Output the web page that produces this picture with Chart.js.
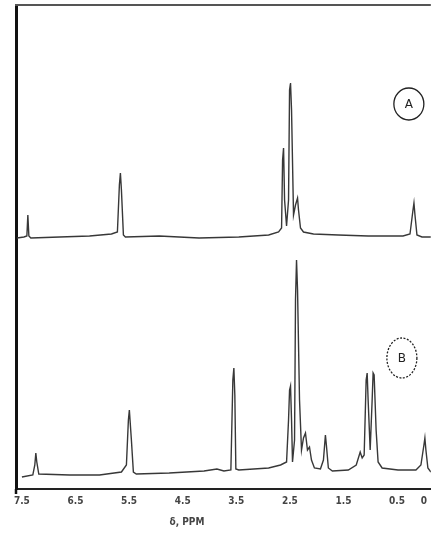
<!DOCTYPE html>
<html>
<head>
<meta charset="utf-8">
<script src="https://cdn.jsdelivr.net/npm/chart.js@4.4.1/dist/chart.umd.min.js"></script>
<style>
  html, body { margin: 0; padding: 0; background: #fff; }
  #wrap { width: 433px; height: 535px; }
</style>
</head>
<body>
<div id="wrap"><canvas id="nmr"></canvas></div>
<script>
// spectrum A (upper trace): chemical shift (ppm) and intensity (arb. units)
const SHIFT_A = [7.593, 7.463, 7.407, 7.389, 7.370, 7.333, 6.795, 6.238, 5.829, 5.718, 5.681, 5.662, 5.643, 5.606, 5.569,
  4.938, 4.195, 3.453, 2.896, 2.711, 2.655, 2.636, 2.618, 2.599, 2.562, 2.525, 2.506, 2.488, 2.469, 2.432, 2.395, 2.357,
  2.339, 2.302, 2.246, 2.060, 1.596, 1.039, 0.389, 0.259, 0.203, 0.185, 0.166, 0.129, 0.036, -0.131];
const INT_A = [251, 252, 253, 274, 253, 251, 252, 253, 255, 257, 304, 316, 299, 254, 252,
  253, 251, 252, 254, 257, 261, 329, 341, 289, 263, 289, 399, 406, 379, 274, 284, 291,
  279, 261, 257, 255, 254, 253, 253, 255, 279, 286, 274, 254, 252, 252];

// spectrum B (lower trace)
const SHIFT_B = [7.500, 7.296, 7.259, 7.240, 7.222, 7.185, 6.609, 6.052, 5.643, 5.550, 5.513, 5.495, 5.457, 5.420, 5.365,
  4.752, 4.102, 3.861, 3.731, 3.601, 3.564, 3.545, 3.527, 3.508, 3.453, 2.896, 2.674, 2.562, 2.525, 2.506, 2.488, 2.469,
  2.451, 2.413, 2.395, 2.376, 2.357, 2.320, 2.283, 2.246, 2.209, 2.172, 2.134, 2.097, 2.042, 1.930, 1.874, 1.837, 1.819,
  1.782, 1.707, 1.410, 1.262, 1.188, 1.151, 1.114, 1.077, 1.058, 1.040, 1.002, 0.965, 0.947, 0.928, 0.891, 0.854, 0.779,
  0.482, 0.148, 0.055, -0.001, -0.019, -0.038, -0.075, -0.131];
const INT_B = [12, 14, 24, 36, 27, 15, 14, 14, 17, 24, 69, 79, 49, 17, 15,
  16, 18, 20, 18, 19, 109, 121, 94, 20, 19, 21, 24, 27, 69, 99, 103, 69,
  27, 49, 189, 229, 199, 89, 39, 51, 56, 39, 42, 29, 21, 20, 29, 54, 44,
  21, 18, 19, 24, 37, 31, 34, 109, 116, 89, 39, 89, 116, 114, 59, 27, 21,
  19, 19, 24, 44, 51, 39, 21, 17];

const TICK_PPM = [7.5, 6.5, 5.5, 4.5, 3.5, 2.5, 1.5, 0.5, 0];
const TICK_TEXT = ['7.5', '6.5', '5.5', '4.5', '3.5', '2.5', '1.5', '0.5', '0'];
const TRACE_NAMES = ['A', 'B'];
const AXIS_TITLE = 'δ, PPM';

// where the circled trace letters and the axis title sit, in axis units
const TAG_SPOTS = [
  { ppm: 0.28, level: 385, rx: 15, ry: 16, dashed: false },
  { ppm: 0.41, level: 131, rx: 15, ry: 20, dashed: true },
];
const TITLE_PPM = 4.42;

const FONT_FAMILY = '"DejaVu Sans Condensed", "Liberation Sans Narrow", "DejaVu Sans", sans-serif';
const TICK_FONT = { family: FONT_FAMILY, size: 10, weight: 'bold' };

function toPoints(shifts, ints) {
  return shifts.map((s, i) => ({ x: s, y: ints[i] }));
}

const frameAndTags = {
  id: 'frameAndTags',
  afterDraw(chart) {
    const { ctx, chartArea, scales: { x, y } } = chart;
    ctx.save();
    // top frame line and the left rule running a little past the axis
    ctx.strokeStyle = '#555';
    ctx.lineWidth = 2;
    ctx.beginPath();
    ctx.moveTo(chartArea.left - 1, chartArea.top);
    ctx.lineTo(chartArea.right, chartArea.top);
    ctx.stroke();
    ctx.strokeStyle = '#111';
    ctx.lineWidth = 2.5;
    ctx.beginPath();
    ctx.moveTo(chartArea.left, chartArea.bottom);
    ctx.lineTo(chartArea.left, chartArea.bottom + 5);
    ctx.stroke();

    TAG_SPOTS.forEach((t, i) => {
      const cx = x.getPixelForValue(t.ppm);
      const cy = y.getPixelForValue(t.level);
      ctx.lineWidth = 1.3;
      ctx.strokeStyle = '#222';
      ctx.setLineDash(t.dashed ? [2, 1.5] : []);
      ctx.beginPath();
      ctx.ellipse(cx, cy, t.rx, t.ry, 0, 0, Math.PI * 2);
      ctx.stroke();
      ctx.setLineDash([]);
      ctx.fillStyle = '#222';
      ctx.font = '12px "DejaVu Sans"';
      ctx.textAlign = 'center';
      ctx.textBaseline = 'middle';
      ctx.fillText(TRACE_NAMES[i], cx, cy + 1);
    });

    ctx.fillStyle = '#444';
    ctx.font = 'bold 10px ' + FONT_FAMILY;
    ctx.textAlign = 'center';
    ctx.textBaseline = 'middle';
    ctx.fillText(AXIS_TITLE, x.getPixelForValue(TITLE_PPM), chartArea.bottom + 33);
    ctx.restore();
  },
};

const lineStyle = {
  showLine: true,
  pointRadius: 0,
  borderColor: '#383838',
  borderWidth: 1.4,
  tension: 0,
  fill: false,
};

new Chart(document.getElementById('nmr'), {
  type: 'scatter',
  data: {
    datasets: [
      { label: TRACE_NAMES[0], data: toPoints(SHIFT_A, INT_A), ...lineStyle },
      { label: TRACE_NAMES[1], data: toPoints(SHIFT_B, INT_B), ...lineStyle },
    ],
  },
  options: {
    responsive: true,
    maintainAspectRatio: false,
    animation: false,
    layout: { padding: { left: 16, top: 5, right: 0, bottom: 0 } },
    plugins: { legend: { display: false }, tooltip: { enabled: false } },
    scales: {
      x: {
        type: 'linear',
        reverse: true,
        min: -0.13,
        max: 7.61,
        afterBuildTicks: s => { s.ticks = TICK_PPM.map(v => ({ value: v })); },
        afterFit: s => { s.height = 46; },
        grid: { display: false, drawTicks: false },
        border: { display: true, color: '#222', width: 2 },
        ticks: {
          autoSkip: false,
          maxRotation: 0,
          padding: 6,
          color: '#444',
          font: TICK_FONT,
          callback: (v, i) => TICK_TEXT[i],
        },
      },
      y: {
        min: 0,
        max: 484,
        afterFit: s => { s.width = 0; },
        grid: { display: false, drawTicks: false },
        border: { display: true, color: '#111', width: 3 },
        ticks: { display: false },
      },
    },
  },
  plugins: [frameAndTags],
});
</script>
</body>
</html>
